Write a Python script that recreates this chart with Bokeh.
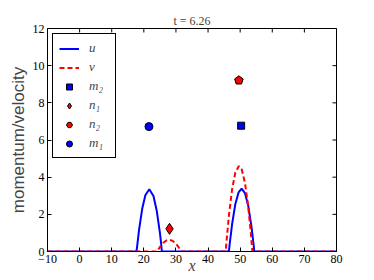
import math
from bokeh.plotting import figure
from bokeh.models import Range1d, FixedTicker, Legend, LegendItem
from bokeh.embed import file_html
from bokeh.resources import INLINE

# ---- data ----
u_x = [-10, 17.7, 17.9, 18.5, 19.5, 20.5, 21.7, 23.0, 24.0, 25.0, 25.4, 25.6,
       46.5, 46.7, 47.5, 48.5, 49.5, 50.45, 51.5, 52.5, 53.5, 54.2, 54.4, 80]
u_y = [0, 0, 0.25, 1.15, 2.31, 3.04, 3.35, 2.99, 2.21, 1.01, 0.41, 0,
       0, 0.35, 1.49, 2.56, 3.18, 3.38, 3.14, 2.47, 1.37, 0.35, 0, 0]

v_x = [-10, 24.2, 25.0, 26.0, 27.0, 27.9, 29.0, 30.0, 31.0, 31.6,
       45.5, 45.7, 46.5, 47.5, 48.5, 49.6, 50.5, 51.5, 52.5, 53.3, 53.8, 80]
v_y = [0, 0, 0.24, 0.46, 0.59, 0.63, 0.57, 0.43, 0.19, 0,
       0, 0.45, 1.95, 3.37, 4.25, 4.60, 4.41, 3.69, 2.43, 1.04, 0, 0]

m2_x, m2_y = [50.3], [6.77]
n1_x, n1_y = [28.0], [1.22]
n2_x, n2_y = [49.6], [9.21]
m1_x, m1_y = [21.6], [6.72]

x_min, x_max = -10, 80
y_min, y_max = 0, 12
x_ticks = [-10, 0, 10, 20, 30, 40, 50, 60, 70, 80]
y_ticks = [0, 2, 4, 6, 8, 10, 12]

title_text = "t = 6.26"
x_label = "x"
y_label = "momentum/velocity"

SERIF = "Liberation Serif"
SANS = "Liberation Sans"

p = figure(width=374, height=280,
           x_range=Range1d(x_min, x_max), y_range=Range1d(y_min, y_max),
           output_backend="svg", toolbar_location=None,
           min_border_left=47, min_border_right=38,
           min_border_top=28, min_border_bottom=29,
           title=title_text)

p.title.align = "center"
p.title.text_font = SERIF
p.title.text_font_size = "12px"
p.title.text_font_style = "normal"
p.title.standoff = 2

p.grid.visible = False
p.outline_line_color = "black"
p.outline_line_width = 1
p.background_fill_color = "white"
p.border_fill_color = "white"

for ax, ticks in ((p.xaxis[0], x_ticks), (p.yaxis[0], y_ticks)):
    ax.ticker = FixedTicker(ticks=ticks)
    ax.major_tick_in = 4
    ax.major_tick_out = 0
    ax.minor_tick_line_color = None
    ax.axis_line_color = "black"
    ax.major_tick_line_color = "black"
    ax.major_label_text_font = SERIF
    ax.major_label_text_font_size = "12px"
    ax.major_label_text_color = "black"
    ax.major_label_standoff = 3

p.xaxis[0].major_label_overrides = {-10: "\u221210"}

p.xaxis[0].axis_label = x_label
p.xaxis[0].axis_label_text_font = SERIF
p.xaxis[0].axis_label_text_font_style = "italic"
p.xaxis[0].axis_label_text_font_size = "16px"
p.xaxis[0].axis_label_standoff = -9

p.yaxis[0].axis_label = y_label
p.yaxis[0].axis_label_text_font = SANS
p.yaxis[0].axis_label_text_font_style = "normal"
p.yaxis[0].axis_label_text_font_size = "17px"
p.yaxis[0].axis_label_standoff = 2

# inward ticks on the top and right frame edges (clipped to the frame)
p.scatter(x_ticks, [y_max] * len(x_ticks), marker="dash", angle=math.pi / 2,
          size=8, line_color="black", line_width=1)
p.scatter([x_max] * len(y_ticks), y_ticks, marker="dash", angle=0,
          size=8, line_color="black", line_width=1)

BLUE = "#0000ff"
RED = "#ff0000"

r_u = p.line(u_x, u_y, line_color=BLUE, line_width=2)
r_v = p.line(v_x, v_y, line_color=RED, line_width=2, line_dash="5 3")
r_m2 = p.scatter(m2_x, m2_y, marker="square", size=7, fill_color=BLUE, line_color="black", line_width=1)
r_n1 = p.scatter(n1_x, n1_y, marker="diamond", size=11, fill_color=RED, line_color="black", line_width=1)
r_n2_leg = p.scatter(n2_x, n2_y, marker="hex", size=6, fill_color=RED, line_color="black", line_width=1)
r_n2 = p.ngon(n2_x, n2_y, radius=4.5, n=5, radius_units="screen",
              fill_color=RED, line_color="black", line_width=1)
r_m1 = p.scatter(m1_x, m1_y, marker="circle", size=8, fill_color=BLUE, line_color="black", line_width=1)

legend = Legend(items=[
    LegendItem(label="u", renderers=[r_u]),
    LegendItem(label="v", renderers=[r_v]),
    LegendItem(label="m\u2082", renderers=[r_m2]),
    LegendItem(label="n\u2081", renderers=[r_n1]),
    LegendItem(label="n\u2082", renderers=[r_n2_leg]),
    LegendItem(label="m\u2081", renderers=[r_m1]),
], location="top_left")
legend.margin = 5
legend.padding = 6
legend.spacing = 3
legend.glyph_width = 20
legend.glyph_height = 15
legend.label_height = 15
legend.label_standoff = 10
legend.label_text_font = SERIF
legend.label_text_font_style = "italic"
legend.label_text_font_size = "13px"
legend.border_line_color = "black"
legend.border_line_width = 1
legend.border_line_alpha = 1
legend.background_fill_color = "white"
legend.background_fill_alpha = 1
p.add_layout(legend, "center")

open("out.html", "w").write(file_html(p, INLINE))
